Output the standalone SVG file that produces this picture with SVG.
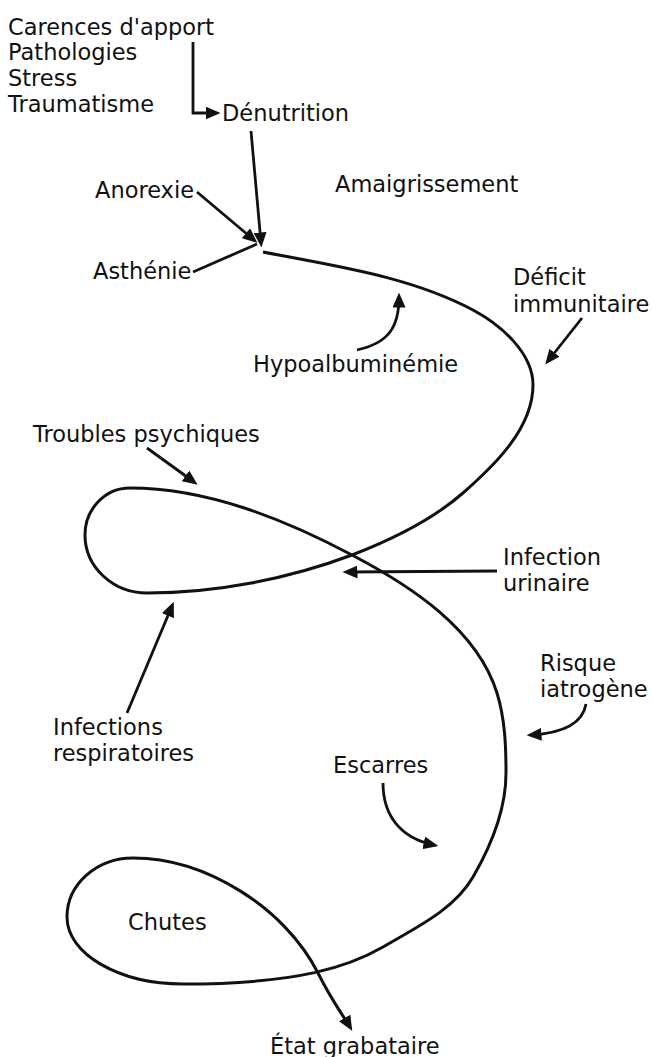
<svg xmlns="http://www.w3.org/2000/svg" width="652" height="1057" viewBox="0 0 652 1057">
<style>
text{font-family:"DejaVu Sans","Liberation Sans",sans-serif;font-size:22.5px;fill:#111}
.ln{fill:none;stroke:#111;stroke-width:2.8;stroke-linecap:butt;stroke-linejoin:miter}
.sp{fill:none;stroke:#111;stroke-width:3}
</style>
<defs>
<marker id="ah" viewBox="0 0 10 10" refX="7" refY="5" markerWidth="15" markerHeight="13" markerUnits="userSpaceOnUse" orient="auto" preserveAspectRatio="none"><path d="M0,0 L10,5 L0,10 z" fill="#111"/></marker>
</defs>
<rect width="652" height="1057" fill="#fff"/>
<g id="causes"><text x="8" y="35">Carences d'apport</text><text x="8" y="60">Pathologies</text><text x="8" y="86">Stress</text><text x="8" y="112">Traumatisme</text></g>
<g id="denutrition"><text x="222" y="121">Dénutrition</text></g>
<g id="anorexie"><text x="95" y="198">Anorexie</text></g>
<g id="asthenie"><text x="93" y="279">Asthénie</text></g>
<g id="amaigrissement"><text x="335" y="192">Amaigrissement</text></g>
<g id="deficit"><text x="513" y="285">Déficit</text><text x="513" y="312">immunitaire</text></g>
<g id="hypoalbuminemie"><text x="253" y="372">Hypoalbuminémie</text></g>
<g id="troubles"><text x="33" y="442">Troubles psychiques</text></g>
<g id="infection-urinaire"><text x="503" y="565">Infection</text><text x="503" y="591">urinaire</text></g>
<g id="risque"><text x="540" y="671">Risque</text><text x="540" y="697">iatrogène</text></g>
<g id="infections-resp"><text x="53" y="735">Infections</text><text x="53" y="761">respiratoires</text></g>
<g id="escarres"><text x="333" y="773">Escarres</text></g>
<g id="chutes"><text x="128" y="930">Chutes</text></g>
<g id="grabataire"><text x="270" y="1054">État grabataire</text></g>
<g id="connectors">
<path class="ln" d="M193,42 V113 H216" marker-end="url(#ah)"/>
<path class="ln" d="M251,131 L261,243" marker-end="url(#ah)"/>
<path class="ln" d="M197,192 L254,240" marker-end="url(#ah)"/>
<path class="ln" d="M193,272 L257,244"/>
<path class="ln" d="M357,350 C388,343 399,328 399,297" marker-end="url(#ah)"/>
<path class="ln" d="M582,318 L548,361" marker-end="url(#ah)"/>
<path class="ln" d="M147,448 L194,482" marker-end="url(#ah)"/>
<path class="ln" d="M497,571 L347,572" marker-end="url(#ah)"/>
<path class="ln" d="M127,713 L172,606" marker-end="url(#ah)"/>
<path class="ln" d="M586,704 C583,722 565,733 531,735" marker-end="url(#ah)"/>
<path class="ln" d="M383,783 C383,815 400,838 434,845" marker-end="url(#ah)"/>
</g>
<g id="spiral">
<path class="sp" marker-end="url(#ah)" d="M263,252 C334,266 409,276 473,310 C501,325 533,353 533,385 C533,428 495,465 463,493 C431,521 391,540 352,555 C288,579 216,593 147,593 C113,593 85,567 85,535 C85,509 105,488 130,488 C207,488 284,519 352,555 C411,586 477,629 497,693 C505,719 506,746 506,773 C506,809 491,846 473,877 C454,910 415,928 383,947 C350,966 300,984 183,984 C119,984 67,954 67,917 C67,884 97,858 133,858 C206,858 285,908 318,973 C333,1003 343,1015 350,1027"/>
</g>
</svg>
